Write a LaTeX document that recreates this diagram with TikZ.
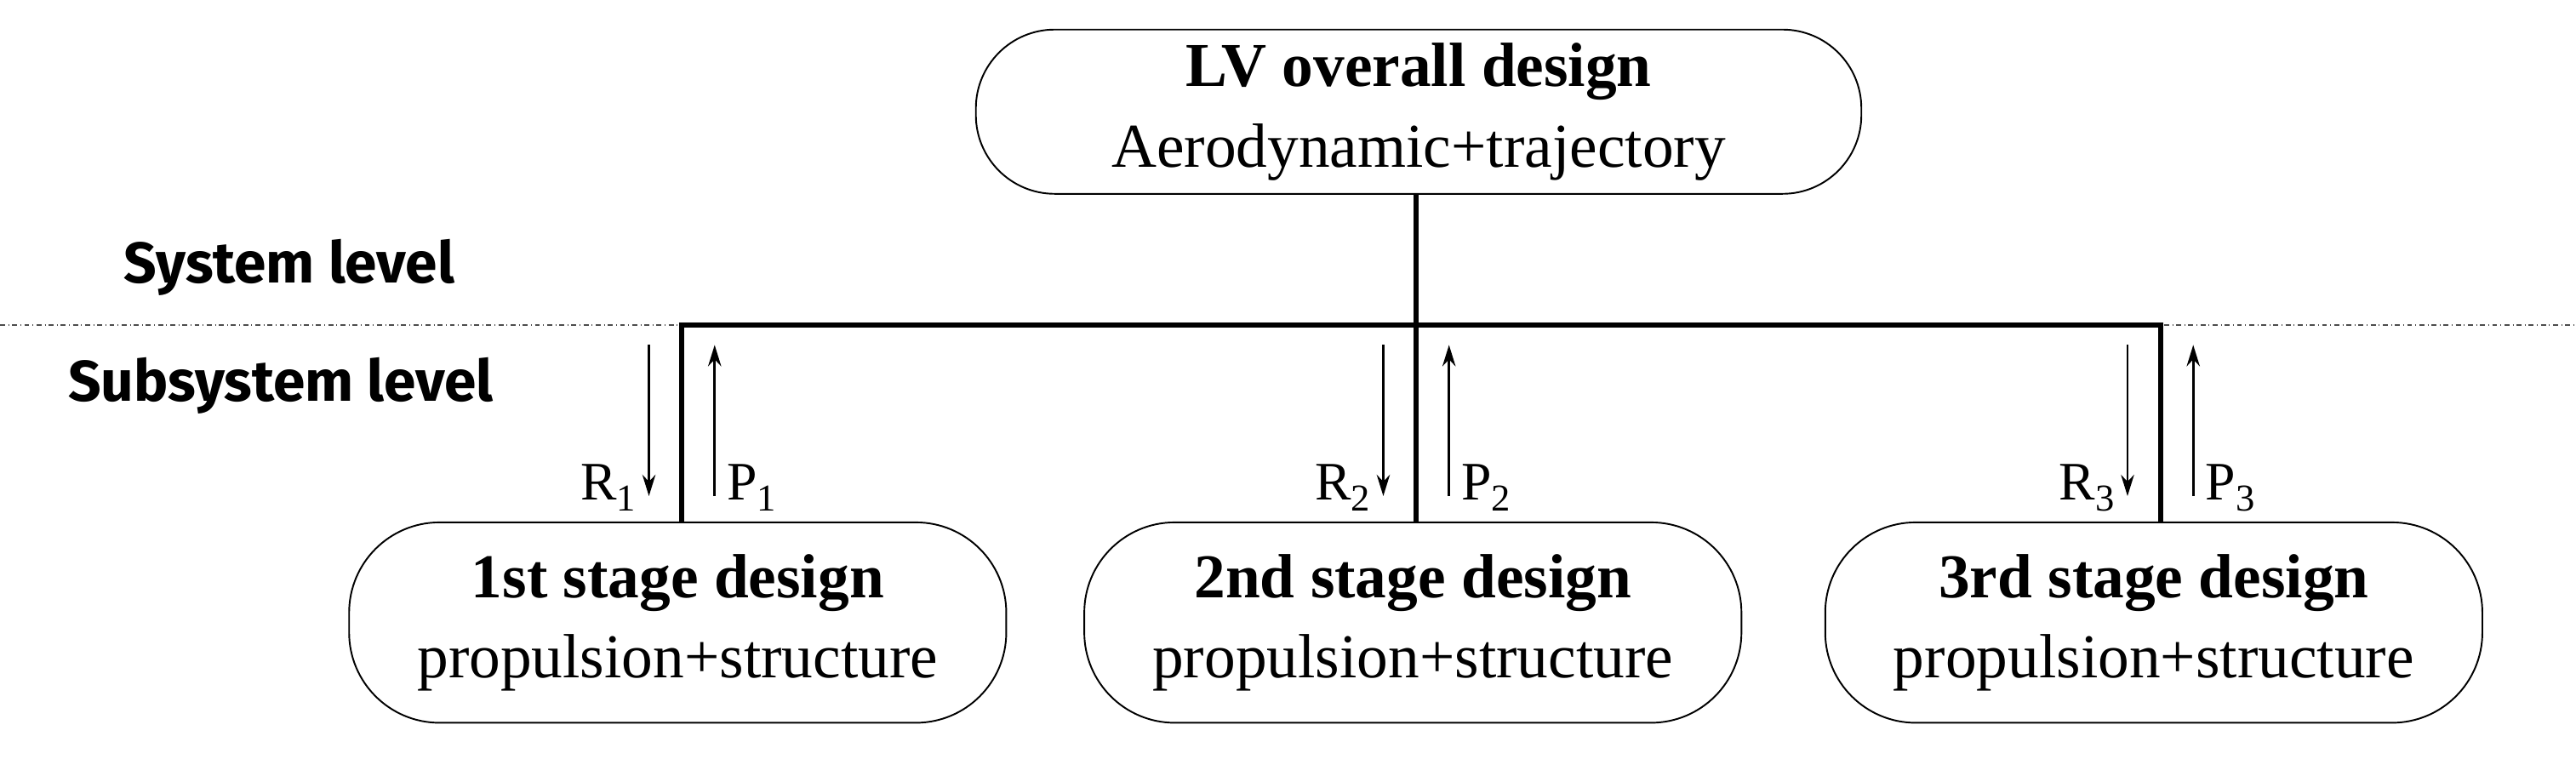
\documentclass[tikz,border=0pt]{standalone}
\usepackage{fontspec}
\setmainfont{Liberation Serif}
\newfontfamily\lvlfont{Fira Sans}
\usetikzlibrary{arrows.meta}
\tikzset{
  box/.style={draw, rounded corners=48pt, line width=1pt, minimum height=100pt, align=center, font=\fontsize{38}{49}\selectfont},
  sbox/.style={box, minimum width=400pt, minimum height=122pt, rounded corners=55pt},
  bar/.style={line width=3pt},
  arr/.style={-{Stealth[length=13pt,width=8pt]}, line width=1.4pt},
  lab/.style={font=\fontsize{33}{38}\selectfont},
  lvl/.style={font=\lvlfont\bfseries\fontsize{35}{40}\selectfont}
}
\begin{document}
\begin{tikzpicture}[x=1pt,y=-1pt]
\useasboundingbox (0,0) rectangle (1568,462);
\node[box, minimum width=539pt] (top) at (863.5,68) {\textbf{LV overall design}\\Aerodynamic+trajectory};
\node[sbox] (s1) at (412.5,379) {\textbf{1st stage design}\\propulsion+structure};
\node[sbox] (s2) at (860,379) {\textbf{2nd stage design}\\propulsion+structure};
\node[sbox] (s3) at (1311,379) {\textbf{3rd stage design}\\propulsion+structure};
\draw[dash dot, line width=0.8pt, black!70] (0,198) -- (1568,198);
\coordinate (j1) at (415,198);
\coordinate (j2) at (862,198);
\coordinate (j3) at (1315,198);
\draw[bar] (top.south -| j2) -- (j2);
\draw[bar] (j1 |- s1.north) -- (j1) -- (j3) -- (j3 |- s3.north);
\draw[bar] (j2) -- (j2 |- s2.north);
\node[lvl, anchor=west] (sys) at (72,163) {System level};
\node[lvl, anchor=west] (sub) at (38,235) {Subsystem level};
\foreach \i/\x in {1/415,2/862,3/1315}{
  \coordinate (rt\i) at (\x-20,210);
  \coordinate (rb\i) at (\x-20,302);
  \coordinate (pt\i) at (\x+20,210);
  \coordinate (pb\i) at (\x+20,302);
  \draw[arr] (rt\i) -- (rb\i);
  \draw[arr] (pb\i) -- (pt\i);
  \node[lab, anchor=east] (R\i) at (\x-24,297) {R\textsubscript{\i}};
  \node[lab, anchor=west] (P\i) at (\x+24,297) {P\textsubscript{\i}};
}
\end{tikzpicture}
\end{document}
